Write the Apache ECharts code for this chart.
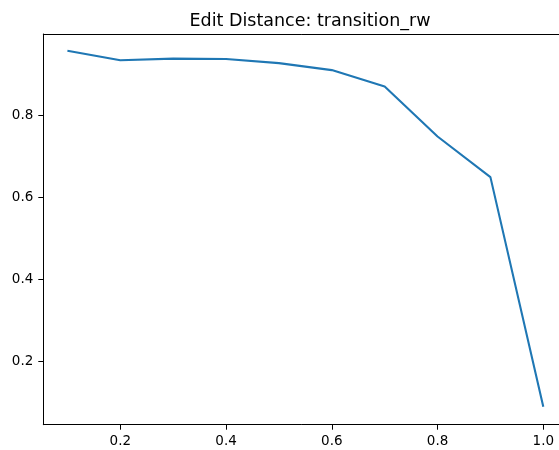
<!DOCTYPE html>
<html>
<head>
<meta charset="utf-8">
<script src="https://cdn.jsdelivr.net/npm/echarts@6/dist/echarts.min.js"></script>
<style>html,body{margin:0;padding:0;background:#fff}#c{width:559px;height:450px}</style>
</head>
<body>
<div id="c"></div>
<script>
const xValues = [0.1, 0.2, 0.3, 0.4, 0.5, 0.6, 0.7, 0.8, 0.9, 1.0];
const yValues = [0.957, 0.934, 0.938, 0.937, 0.927, 0.910, 0.870, 0.748, 0.649, 0.089];
const xTicks = [0.2, 0.4, 0.6, 0.8, 1.0];
const yTicks = [0.2, 0.4, 0.6, 0.8];
const titleText = 'Edit Distance: transition_rw';

const font = 'DejaVu Sans';
const xMin = 0.0544, xMax = 1.0297;
const chart = echarts.init(document.getElementById('c'), null, {renderer: 'canvas'});
chart.setOption({
  animation: false,
  backgroundColor: '#fff',
  title: {
    text: titleText,
    left: 305, top: 7, textAlign: 'center',
    textStyle: {fontFamily: font, fontSize: 17.5, fontWeight: 'normal', color: '#000'}
  },
  grid: {left: 43.3, top: 34, right: 0, bottom: 25.3, show: false},
  xAxis: [{
    type: 'value', min: xMin, max: xMax, position: 'bottom',
    splitLine: {show: false},
    axisLine: {show: true, onZero: false, lineStyle: {color: '#000', width: 1}},
    axisTick: {show: true, length: 5, lineStyle: {color: '#000', width: 1}, customValues: xTicks},
    axisLabel: {customValues: xTicks, formatter: v => v.toFixed(1), fontFamily: font, fontSize: 13.5, color: '#000', margin: 10}
  }, {
    type: 'value', min: xMin, max: xMax, position: 'top',
    splitLine: {show: false},
    axisLine: {show: true, onZero: false, lineStyle: {color: '#000', width: 1}},
    axisTick: {show: false},
    axisLabel: {show: false}
  }],
  yAxis: {
    type: 'value', min: 0.0454, max: 0.998,
    splitLine: {show: false},
    axisLine: {show: true, onZero: false, lineStyle: {color: '#000', width: 1}},
    axisTick: {show: true, length: 5, lineStyle: {color: '#000', width: 1}, customValues: yTicks},
    axisLabel: {customValues: yTicks, formatter: v => v.toFixed(1), fontFamily: font, fontSize: 13.5, color: '#000', margin: 10}
  },
  series: [{
    type: 'line',
    xAxisIndex: 0,
    data: xValues.map((x, i) => [x, yValues[i]]),
    showSymbol: false,
    lineStyle: {color: '#1f77b4', width: 2.1},
    itemStyle: {color: '#1f77b4'}
  }]
});
</script>
</body>
</html>
